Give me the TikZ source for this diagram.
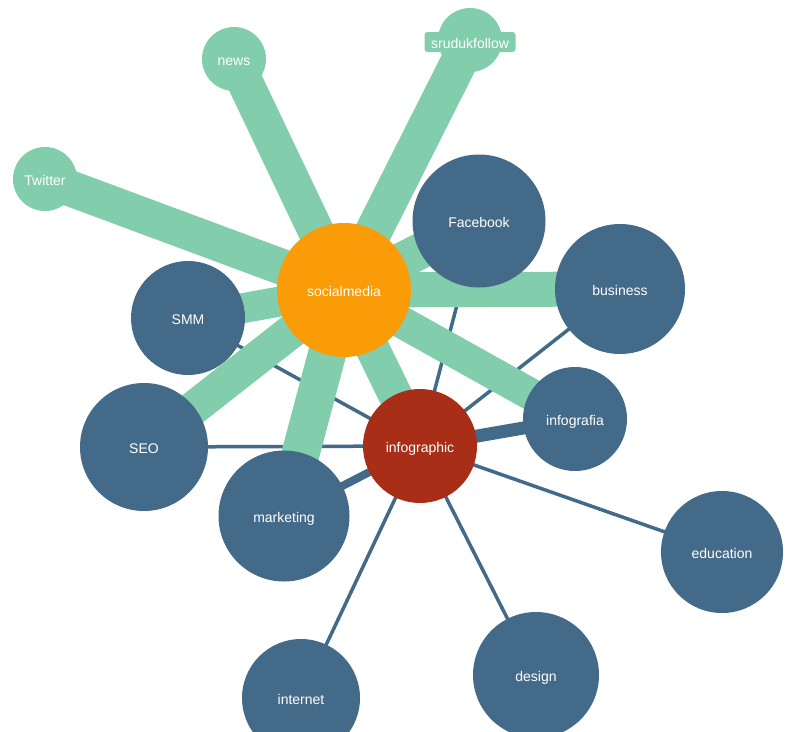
\documentclass[tikz,border=0pt]{standalone}
\usepackage{fontspec}
\setmainfont{Liberation Sans}
\usetikzlibrary{backgrounds}
\definecolor{leafgreen}{RGB}{130,206,172}
\definecolor{hubred}{RGB}{169,46,23}
\definecolor{huborange}{RGB}{249,156,8}
\definecolor{tagblue}{RGB}{67,106,137}
\tikzset{
  bubble/.style={circle,inner sep=0pt,text=white,text height=13pt,text depth=0pt,font=\fontsize{14}{16}\selectfont},
  tagnode/.style={bubble,fill=tagblue},
  leafnode/.style={bubble,fill=leafgreen,minimum size=64pt},
  greenlink/.style={draw=leafgreen,line width=#1},
  bluelink/.style={draw=tagblue,line width=#1},
}
\begin{document}
\begin{tikzpicture}[x=1pt,y=-1pt]
\useasboundingbox (0,0) rectangle (794,731);
% hubs
\node[bubble,fill=huborange,minimum size=134pt] (socialmedia) at (344,290) {socialmedia};
\node[bubble,fill=hubred,minimum size=114pt] (infographic) at (420,446) {infographic};
% tags
\node[tagnode,minimum size=133pt] (Facebook) at (479,221) {Facebook};
\node[tagnode,minimum size=130pt] (business) at (620,289) {business};
\node[tagnode,minimum size=104pt] (infografia) at (575,419) {infografia};
\node[tagnode,minimum size=122pt] (education) at (722,552) {education};
\node[tagnode,minimum size=126pt] (design) at (536,675) {design};
\node[tagnode,minimum size=118pt] (internet) at (301,698) {internet};
\node[tagnode,minimum size=131pt] (marketing) at (284,516) {marketing};
\node[tagnode,minimum size=128pt] (SEO) at (144,447) {SEO};
\node[tagnode,minimum size=114pt] (SMM) at (188,318) {SMM};
% leaves
\node[leafnode] (Twitter) at (45,179) {Twitter};
\node[leafnode] (news) at (234,59) {news};
\node[leafnode] (srudukfollow) at (470,40) {};
\node[bubble,rectangle,fill=leafgreen,rounded corners=3pt,minimum width=91pt,minimum height=20pt]
  (srudukfollowtag) at (470,42) {srudukfollow};
% links
\begin{scope}[on background layer]
\draw[bluelink=3.5pt] (infographic.center) -- (SMM.center);
\draw[bluelink=3.5pt] (infographic.center) -- (SEO.center);
\draw[bluelink=8pt] (infographic.center) -- (marketing.center);
\draw[bluelink=3.5pt] (infographic.center) -- (internet.center);
\draw[bluelink=3.5pt] (infographic.center) -- (design.center);
\draw[bluelink=3.5pt] (infographic.center) -- (education.center);
\draw[bluelink=13pt] (infographic.center) -- (infografia.center);
\draw[bluelink=3.5pt] (infographic.center) -- (business.center);
\draw[bluelink=3.5pt] (infographic.center) -- (Facebook.center);
\draw[greenlink=36pt] (socialmedia.center) -- (Twitter.center);
\draw[greenlink=36pt] (socialmedia.center) -- (news.center);
\draw[greenlink=37pt] (socialmedia.center) -- (srudukfollow.center);
\draw[greenlink=36pt] (socialmedia.center) -- (Facebook.center);
\draw[greenlink=35pt] (socialmedia.center) -- (business.center);
\draw[greenlink=32pt] (socialmedia.center) -- (infografia.center);
\draw[greenlink=34pt] (socialmedia.center) -- (infographic.center);
\draw[greenlink=38pt] (socialmedia.center) -- (marketing.center);
\draw[greenlink=34pt] (socialmedia.center) -- (SEO.center);
\draw[greenlink=30pt] (socialmedia.center) -- (SMM.center);
\end{scope}
\end{tikzpicture}
\end{document}
